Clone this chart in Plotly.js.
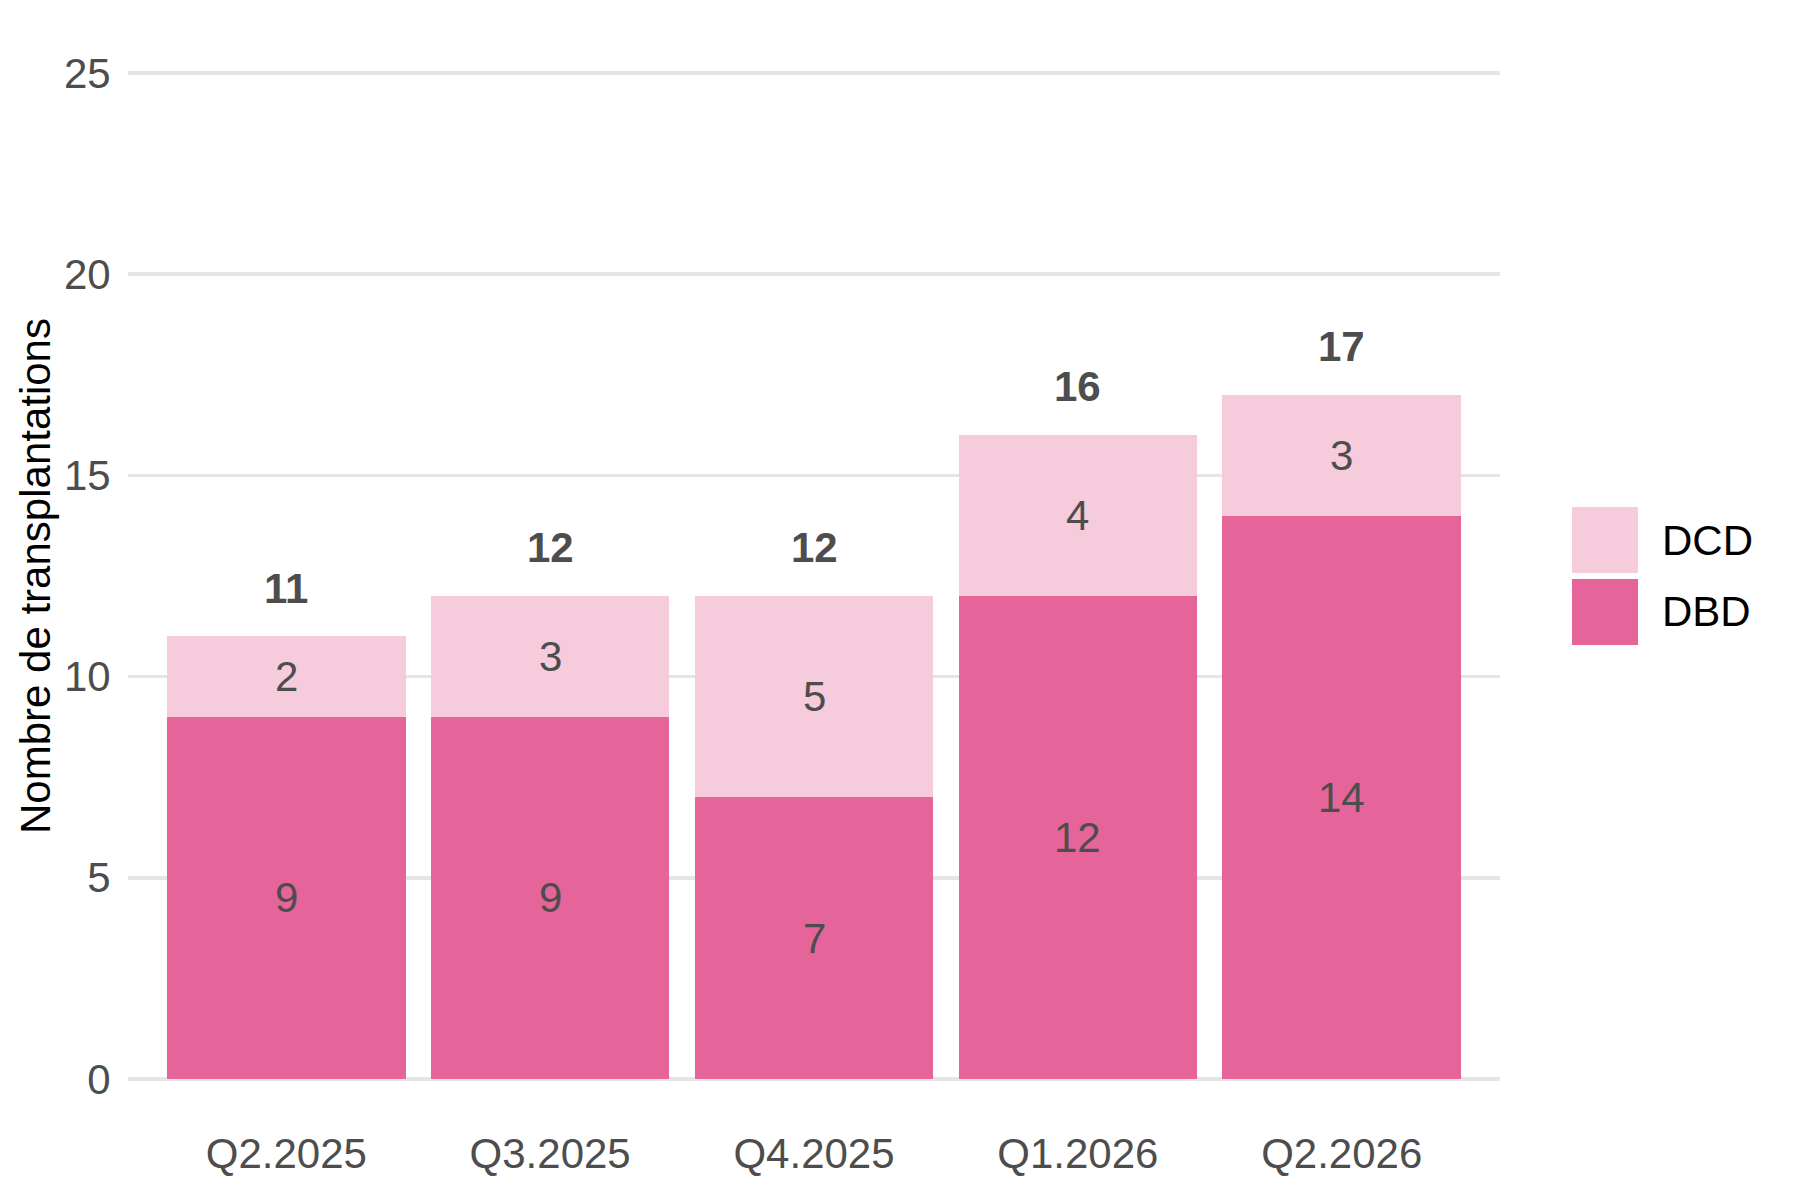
<!DOCTYPE html>
<html>
<head>
<meta charset="utf-8">
<script src="https://cdn.plot.ly/plotly-3.0.1.min.js"></script>
<style>
  html, body { margin: 0; padding: 0; background: #ffffff; }
  #chart { width: 1800px; height: 1200px; }
</style>
</head>
<body>
<div id="chart"></div>
<script>
// ---- data ----
const quarters = ['Q2.2025', 'Q3.2025', 'Q4.2025', 'Q1.2026', 'Q2.2026'];
const dbd = [9, 9, 7, 12, 14];
const dcd = [2, 3, 5, 4, 3];
const yTicks = [0, 5, 10, 15, 20, 25];
const seriesNames = ['DBD', 'DCD'];

// ---- styles ----
const colDBD = '#E5659A';
const colDCD = '#F6CBDC';
const font = 'Liberation Sans, Arial, Helvetica, sans-serif';
const fs = 42;
const gray = '#4D4D4D';

const totals = quarters.map((q, i) => dbd[i] + dcd[i]);

const traces = [
  { type: 'bar', name: seriesNames[0], x: quarters, y: dbd, marker: { color: colDBD, line: { width: 0 } }, showlegend: false, hoverinfo: 'skip' },
  { type: 'bar', name: seriesNames[1], x: quarters, y: dcd, marker: { color: colDCD, line: { width: 0 } }, showlegend: false, hoverinfo: 'skip' }
];

const annotations = [];
quarters.forEach((q, i) => {
  annotations.push({ x: q, y: dbd[i] / 2, xref: 'x', yref: 'y', text: String(dbd[i]), showarrow: false,
    font: { family: font, size: fs, color: gray }, yanchor: 'middle', xanchor: 'center' });
  annotations.push({ x: q, y: dbd[i] + dcd[i] / 2, xref: 'x', yref: 'y', text: String(dcd[i]), showarrow: false,
    font: { family: font, size: fs, color: gray }, yanchor: 'middle', xanchor: 'center' });
  annotations.push({ x: q, y: totals[i] + 1.2, xref: 'x', yref: 'y', text: '<b>' + totals[i] + '</b>', showarrow: false,
    font: { family: font, size: fs, color: gray }, yanchor: 'middle', xanchor: 'center' });
});

// legend (drawn manually to get large key swatches)
const legendItems = [
  { name: seriesNames[1], color: colDCD, y0: 0.503, y1: 0.568, ty: 0.5355 },
  { name: seriesNames[0], color: colDBD, y0: 0.432, y1: 0.497, ty: 0.4645 }
];
const shapes = [];
legendItems.forEach(it => {
  shapes.push({ type: 'rect', xref: 'paper', yref: 'paper', x0: 1.0525, x1: 1.1006, y0: it.y0, y1: it.y1,
    fillcolor: it.color, line: { width: 0 } });
  annotations.push({ xref: 'paper', yref: 'paper', x: 1.1166, y: it.ty, text: it.name, showarrow: false,
    xanchor: 'left', yanchor: 'middle', font: { family: font, size: fs, color: '#000000' } });
});

const layout = {
  width: 1800, height: 1200,
  paper_bgcolor: '#ffffff', plot_bgcolor: '#ffffff',
  margin: { l: 128, r: 300, t: 69, b: 117 },
  barmode: 'stack',
  bargap: 0.096,
  showlegend: false,
  font: { family: font, size: fs, color: gray },
  xaxis: {
    type: 'category',
    range: [-0.6, 4.6],
    showgrid: false, zeroline: false, showline: false,
    ticks: 'outside', ticklen: 34, tickcolor: 'rgba(0,0,0,0)',
    tickfont: { family: font, size: fs, color: gray },
    fixedrange: true
  },
  yaxis: {
    range: [-0.1, 25.1],
    tickvals: yTicks,
    ticktext: yTicks.map(String),
    showgrid: true, gridcolor: '#E5E5E5', gridwidth: 3.5,
    zeroline: false, showline: false,
    ticks: 'outside', ticklen: 8, tickcolor: 'rgba(0,0,0,0)',
    tickfont: { family: font, size: fs, color: gray },
    title: { text: 'Nombre de transplantations', font: { family: font, size: fs, color: '#000000' }, standoff: 0 },
    automargin: false,
    fixedrange: true
  },
  annotations: annotations,
  shapes: shapes
};

Plotly.newPlot('chart', traces, layout, { displayModeBar: false, staticPlot: true });
</script>
</body>
</html>
